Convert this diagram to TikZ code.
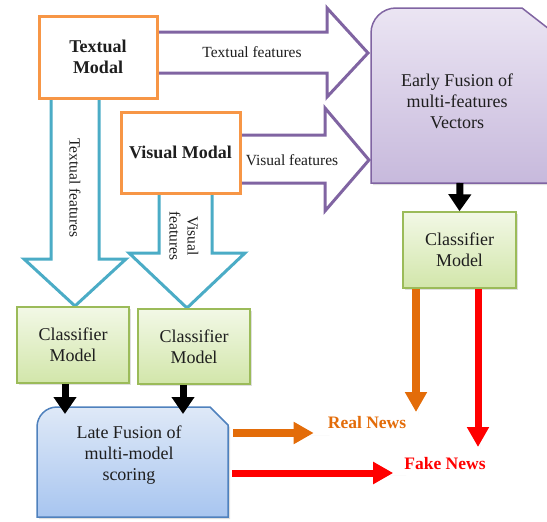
\documentclass[tikz,border=0pt]{standalone}
\usepackage{fontspec}
\setmainfont{Liberation Serif}
\usetikzlibrary{arrows.meta,shadows}
\definecolor{orangeB}{HTML}{F79646}
\definecolor{purpleB}{HTML}{8064A2}
\definecolor{blueA}{HTML}{4BACC6}
\definecolor{greenB}{HTML}{9BBB59}
\definecolor{greenT}{HTML}{F2F8E6}
\definecolor{greenBt}{HTML}{D2E6AA}
\definecolor{purT}{HTML}{EBE5F3}
\definecolor{purBt}{HTML}{C7B9DC}
\definecolor{bluB}{HTML}{4F81BD}
\definecolor{bluT}{HTML}{DFE9F7}
\definecolor{bluBt}{HTML}{A8C5F0}
\definecolor{realC}{HTML}{E36C09}
\definecolor{fakeC}{HTML}{FF0000}
\definecolor{txt}{HTML}{1E1E1E}
\begin{document}
\begin{tikzpicture}[x=1pt,y=-1pt,
  big/.style={font=\rmfamily\fontsize{18}{21}\selectfont, text=txt},
  small/.style={font=\rmfamily\fontsize{15.5}{18}\selectfont, text=txt},
  modal/.style={big, font=\rmfamily\fontsize{18}{21}\selectfont\bfseries, draw=orangeB, line width=3pt, fill=white, minimum width=118pt, minimum height=82pt, align=center, inner sep=0pt},
  clsbox/.style={big, draw=greenB, line width=1.5pt, top color=greenT, bottom color=greenBt, minimum width=112pt, minimum height=76pt, align=center, drop shadow={opacity=0.25, shadow xshift=2pt, shadow yshift=-2pt}},
  purarrow/.style={draw=purpleB, line width=3pt, fill=white, line join=miter},
  bluarrow/.style={draw=blueA, line width=3pt, fill=white, line join=miter},
  blk/.style={line width=7pt, -{Triangle[width=22pt,length=17pt]}, black},
  realarrow/.style={line width=8pt, realC, -{Triangle[width=21pt,length=20pt]}, drop shadow={opacity=0.25, shadow xshift=2pt, shadow yshift=-2pt}},
  fakearrow/.style={line width=7pt, fakeC, -{Triangle[width=21pt,length=20pt]}, drop shadow={opacity=0.25, shadow xshift=2pt, shadow yshift=-2pt}},
  outlabel/.style={font=\rmfamily\fontsize{17.5}{20}\selectfont\bfseries, inner sep=0pt}
]
\useasboundingbox (0,0) rectangle (547,522);

% purple feature arrows
\path[purarrow] (157,32) -- (327,32) -- (327,8) -- (368,53) -- (327,97) -- (327,73) -- (157,73) -- cycle;
\path[purarrow] (240,135) -- (325,135) -- (325,108) -- (369,160) -- (325,211) -- (325,183) -- (240,183) -- cycle;

% blue feature arrows
\path[bluarrow] (51,98) -- (51,259) -- (24,259) -- (75,306) -- (126,259) -- (99,259) -- (99,98) -- cycle;
\path[bluarrow] (159,193) -- (159,253) -- (129,253) -- (187,308) -- (245,253) -- (212,253) -- (212,193) -- cycle;

% modal boxes
\node[modal] (textual) at (98,57) {Textual\\Modal};
\node[modal, minimum width=119pt, minimum height=81pt] (visual) at (180.5,152.5) {Visual Modal};

% labels on feature arrows
\node[small] (tflab) at (252,52) {Textual features};
\node[small] (vflab) at (292,160) {Visual features};
\node[small, rotate=-90] (tflabv) at (75,188) {Textual features};
\node[small, rotate=-90, align=center, inner sep=0pt] (vflabv) at (184,236) {Visual\\features};

% early fusion
\path[draw=purpleB, line width=1.5pt, top color=purT, bottom color=purBt, drop shadow={opacity=0.25, shadow xshift=2pt, shadow yshift=-2pt}]
  (371,183) -- (371,33) arc[start angle=180, end angle=270, radius=25] -- (522,8) -- (549,29) -- (549,183) -- cycle;
\node[big, align=center] (early) at (457,101.5) {Early Fusion of\\multi-features\\Vectors};
\coordinate (earlyS) at (460,183);

% late fusion
\path[draw=bluB, line width=1.5pt, top color=bluT, bottom color=bluBt, drop shadow={opacity=0.25, shadow xshift=2pt, shadow yshift=-2pt}]
  (37,517) -- (37,427) arc[start angle=180, end angle=270, radius=20] -- (210,407) -- (228,425) -- (228,517) -- cycle;
\node[big, align=center] (late) at (129,455.5) {Late Fusion of\\multi-model\\scoring};
\coordinate (late1) at (65,414);
\coordinate (late2) at (183,414);
\coordinate (lateE1) at (233,433);
\coordinate (lateE2) at (232,473);

% classifiers
\node[clsbox] (cls1) at (73,345) {Classifier\\Model};
\node[clsbox, minimum height=75pt] (cls2) at (194,346.5) {Classifier\\Model};
\node[clsbox, minimum width=113pt] (cls3) at (459.5,250) {Classifier\\Model};

% outputs
\node[outlabel, text=realC] (real) at (367,423) {Real News};
\node[outlabel, text=fakeC] (fake) at (445,464) {Fake News};
\coordinate (realTop) at (416,412);
\coordinate (fakeTop) at (478,447);

% black arrows
\draw[blk] (earlyS) -- (cls3.north);
\draw[blk] (cls1.south -| late1) -- (late1);
\draw[blk] (cls2.south -| late2) -- (late2);

% output arrows
\draw[realarrow, shorten >=14pt] (lateE1) -- (lateE1 -| real.west);
\draw[fakearrow, shorten >=11pt] (lateE2) -- (lateE2 -| fake.west);
\draw[realarrow] (cls3.south -| realTop) -- (realTop);
\draw[fakearrow] (cls3.south -| fakeTop) -- (fakeTop);
\end{tikzpicture}
\end{document}
